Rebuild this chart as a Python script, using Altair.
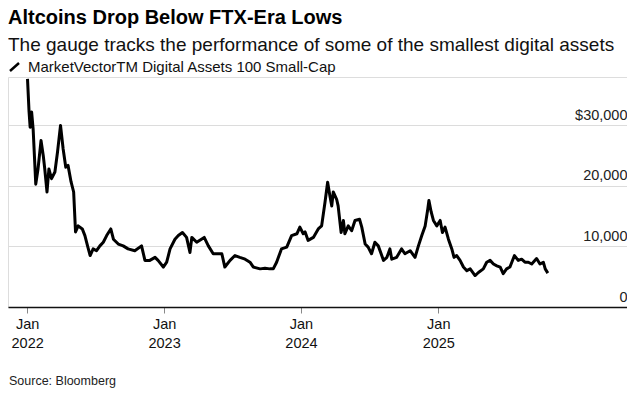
import altair as alt
import pandas as pd

# decimal years since 2022-01-01
year_frac = [0.005,0.015,0.022,0.034,0.046,0.064,0.082,0.102,0.119,0.131,0.146,0.161,0.180,0.204,0.224,0.246,0.265,0.282,0.301,0.321,
             0.341,0.355,0.374,0.404,0.423,0.443,0.462,0.482,0.509,0.533,0.557,0.582,0.613,0.630,0.666,0.703,0.739,0.788,0.837,0.861,
             0.898,0.934,0.958,0.995,1.020,1.044,1.080,1.104,1.136,1.166,1.190,1.202,1.239,1.294,1.323,1.360,1.421,1.445,1.482,1.518,
             1.555,1.591,1.628,1.652,1.701,1.737,1.774,1.798,1.823,1.859,1.896,1.932,1.969,1.993,2.017,
             2.029,2.053,2.090,2.126,2.151,2.175,2.195,2.212,2.224,2.236,2.261,2.272,2.292,2.309,2.321,2.345,2.370,2.394,2.426,2.443,
             2.467,2.491,2.516,2.540,2.564,2.601,2.626,2.650,2.662,2.699,2.735,2.759,2.796,2.832,2.856,2.881,2.905,2.925,2.934,2.949,
             2.966,2.991,3.015,3.031,3.051,3.075,3.100,3.117,3.136,3.161,3.185,3.209,3.234,3.270,3.294,3.331,3.355,3.380,3.404,3.428,
             3.453,3.477,3.501,3.526,3.557,3.586,3.611,3.635,3.659,3.684,3.720,3.745,3.769,3.781,3.801]

index_value = [37700,32400,29700,32200,29400,20300,22800,27500,25000,22800,19000,22800,21200,22300,25600,30000,26100,23100,23400,20700,
               19000,12400,13400,12900,11800,10100,8500,9600,9300,10100,10700,11800,12900,11200,10400,10100,9600,9300,10100,7700,
               7700,8200,7700,6600,7400,9600,11200,11800,12300,11500,9000,11500,10700,11500,10100,8800,8800,6600,7700,8500,
               8200,7900,7400,6600,6300,6400,6300,6300,7400,9600,9900,11800,12100,13200,12100,
               12400,11000,11500,12900,13400,17300,20600,18400,16700,19000,17800,16700,12300,14300,12100,13400,12600,14300,14500,13200,
               10400,9900,8800,10700,10100,7700,8200,9600,7900,8200,9600,8800,9300,8200,10100,11800,13400,16200,17600,15700,
               14300,13400,14300,12300,13200,11200,9600,8200,8500,7700,6600,6000,6300,5200,5700,6300,7400,7700,7100,6800,
               6600,5500,6300,6600,8500,7700,7900,7400,7400,7100,8000,7100,7400,6300,5600]

y_ticks = [0, 10000, 20000, 30000]
x_tick_years = [2022, 2023, 2024, 2025]

title = "Altcoins Drop Below FTX-Era Lows"
subtitle = "The gauge tracks the performance of some of the smallest digital assets"
series_name = "MarketVectorTM Digital Assets 100 Small-Cap"
source = "Source: Bloomberg"

assert len(year_frac) == len(index_value)
base_date = pd.Timestamp("2022-01-01")
dates = [(base_date + pd.to_timedelta(f * 365.25, unit="D")).strftime("%Y-%m-%d") for f in year_frac]
df = pd.DataFrame({"date": dates, "value": index_value})

FONT = "Liberation Sans"
W, H = 619, 230

line = alt.Chart(df).mark_line(color="#000", strokeWidth=3, strokeJoin="round").encode(
    x=alt.X("date:T",
            scale=alt.Scale(domain=[alt.DateTime(year=2021, month=11, date=11),
                                    alt.DateTime(year=2026, month=5, date=19)]),
            axis=alt.Axis(title=None, grid=False,
                          values=[alt.DateTime(year=y, month=1, date=1) for y in x_tick_years],
                          labelExpr="[timeFormat(datum.value, '%b'), timeFormat(datum.value, '%Y')]",
                          domainColor="#111", domainWidth=1.5,
                          tickColor="#888", tickSize=6, tickWidth=1,
                          labelFontSize=14.5, labelLineHeight=19, labelPadding=4,
                          labelColor="#111", labelFlush=False, labelFont=FONT)),
    y=alt.Y("value:Q",
            scale=alt.Scale(domain=[0, 38000], nice=False),
            axis=alt.Axis(title=None, orient="right", values=y_ticks,
                          labelExpr="datum.value == 30000 ? '$30,000' : format(datum.value, ',')",
                          domain=False, ticks=False, grid=True,
                          gridColor="#dcdcdc", gridWidth=1,
                          labelAlign="right", labelBaseline="alphabetic",
                          labelOffset=-6, labelPadding=0, labelFlush=False,
                          labelFontSize=14.5, labelColor="#222", labelFont=FONT)),
)

one = alt.Data(values=[{}])

legend_icon = alt.Chart(one).mark_rule(color="#000", strokeWidth=2.5).encode(
    x=alt.value(2), x2=alt.value(11), y=alt.value(-6), y2=alt.value(-14))

legend_text = alt.Chart(one).mark_text(
    align="left", baseline="middle", fontSize=15, font=FONT, color="#111"
).encode(x=alt.value(20), y=alt.value(-10), text=alt.value(series_name))

source_text = alt.Chart(one).mark_text(
    align="left", baseline="middle", fontSize=12.5, font=FONT, color="#222"
).encode(x=alt.value(1), y=alt.value(304), text=alt.value(source))

chart = alt.layer(line, legend_icon, legend_text, source_text).properties(
    width=W, height=H,
    title=alt.TitleParams(text=title, subtitle=subtitle, anchor="start", frame="group",
                          font=FONT, fontSize=20, fontWeight="bold", color="#000",
                          subtitleFont=FONT, subtitleFontSize=19, subtitleColor="#111",
                          subtitlePadding=8, offset=5),
    padding={"left": 0, "top": 0, "right": 0, "bottom": 0},
).configure_view(stroke=None).configure(font=FONT)

chart.save("out.html", embed_options={"renderer": "svg", "actions": False})
